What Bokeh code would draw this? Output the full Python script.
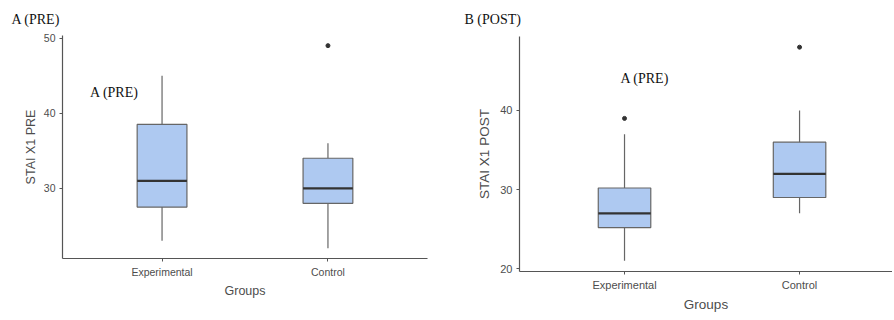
from bokeh.plotting import figure
from bokeh.layouts import row, column
from bokeh.models import Range1d, FixedTicker, Label, Title
from bokeh.embed import file_html
from bokeh.resources import INLINE

# ---- data ----
groups = ["Experimental", "Control"]

pre_lower = [23, 22]
pre_q1 = [27.5, 28]
pre_median = [31, 30]
pre_q3 = [38.5, 34]
pre_upper = [45, 36]
pre_outlier_group = ["Control"]
pre_outlier_value = [49]

post_lower = [21, 27]
post_q1 = [25.2, 29]
post_median = [27, 32]
post_q3 = [30.2, 36]
post_upper = [37, 40]
post_outlier_group = ["Experimental", "Control"]
post_outlier_value = [39, 48]

pre_ticks = [30, 40, 50]
post_ticks = [20, 30, 40]

BOX_FILL = "#aec9f1"
BOX_LINE = "#666666"
AXIS_COL = "#555555"
TEXT_COL = "#4d4d4d"
SANS = "Liberation Sans"
SERIF = "Liberation Serif"


def make_panel(title, ylabel, lower, q1, med, q3, upper, og, ov, yticks,
               yr, xr, width, height, borders, title_off, title_standoff,
               inner_xy, lab_size, tick_size, ylab_standoff):
    p = figure(width=width, height=height, output_backend="svg",
               toolbar_location=None, x_range=Range1d(*xr),
               y_range=Range1d(*yr))
    p.min_border_left, p.min_border_right, p.min_border_top, p.min_border_bottom = borders
    p.outline_line_color = None
    p.xgrid.visible = False
    p.ygrid.visible = False
    p.background_fill_color = "white"
    p.border_fill_color = "white"

    x = [groups.index(g) + 1 for g in groups]
    ox = [groups.index(g) + 1 for g in og]
    w = 0.3

    # whiskers
    p.segment(x0=x, y0=q3, x1=x, y1=upper, line_color=BOX_LINE, line_width=1.2)
    p.segment(x0=x, y0=lower, x1=x, y1=q1, line_color=BOX_LINE, line_width=1.2)
    # boxes
    p.vbar(x=x, width=w, bottom=q1, top=q3, fill_color=BOX_FILL,
           line_color=BOX_LINE, line_width=1.2)
    # medians
    x0 = [v - w / 2 for v in x]
    x1 = [v + w / 2 for v in x]
    p.segment(x0=x0, y0=med, x1=x1, y1=med, line_color="#333333", line_width=2.2)
    # outliers
    p.scatter(x=ox, y=ov, size=4, color="#333333")

    # axes
    p.xaxis.ticker = FixedTicker(ticks=x)
    p.xaxis.major_label_overrides = {xi: g for xi, g in zip(x, groups)}
    p.yaxis.ticker = FixedTicker(ticks=yticks)
    for ax in (p.xaxis[0], p.yaxis[0]):
        ax.axis_line_color = AXIS_COL
        ax.axis_line_width = 1.2
        ax.major_tick_line_color = AXIS_COL
        ax.major_tick_in = 0
        ax.major_tick_out = 3
        ax.minor_tick_line_color = None
        ax.major_label_text_font = SANS
        ax.major_label_text_font_size = tick_size
        ax.major_label_text_color = TEXT_COL
        ax.major_label_standoff = 4
        ax.axis_label_text_font = SANS
        ax.axis_label_text_font_style = "normal"
        ax.axis_label_text_font_size = lab_size
        ax.axis_label_text_color = TEXT_COL
    p.xaxis.axis_label_standoff = 3
    p.yaxis.axis_label_standoff = ylab_standoff
    p.xaxis.axis_label = "Groups"
    p.yaxis.axis_label = ylabel

    t = Title(text=title, align="left", offset=title_off,
              text_font=SERIF, text_font_size="14px",
              text_font_style="normal", text_color="#111111",
              standoff=title_standoff)
    p.add_layout(t, "above")

    lab = Label(x=inner_xy[0], y=inner_xy[1], text="A (PRE)",
                text_font=SERIF, text_font_size="14px",
                text_color="#111111", text_baseline="middle",
                text_align="left")
    p.add_layout(lab)
    return p


p1 = make_panel("A (PRE)", "STAI X1 PRE", pre_lower, pre_q1, pre_median,
                pre_q3, pre_upper, pre_outlier_group, pre_outlier_value,
                pre_ticks, (20.65, 50.35), (0.4, 2.6), 440, 318,
                (62, 13, 35, 60), -51, 18, (0.566, 42.8),
                "12.5px", "10.5px", 3)
p2 = make_panel("B (POST)", "STAI X1 POST", post_lower, post_q1, post_median,
                post_q3, post_upper, post_outlier_group, post_outlier_value,
                post_ticks, (19.65, 49.35), (0.4, 2.531), 452, 318,
                (79, 0, 36, 47), -55, 19, (0.977, 44.1),
                "13.5px", "11px", 5)

layout = row(column(p1), column(p2))
open("out.html", "w").write(file_html(layout, INLINE))
